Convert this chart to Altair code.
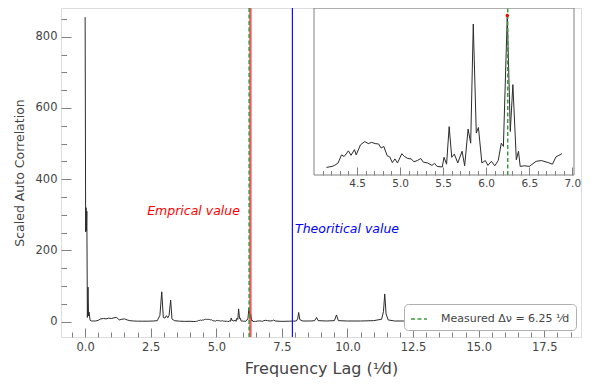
import altair as alt
import pandas as pd

# ---------------- data ----------------
# main autocorrelation curve, outside the inset window
pre_x = [0.0, 0.02, 0.035, 0.05, 0.065, 0.085, 0.11, 0.13, 0.15, 0.19, 0.25, 0.32, 0.4, 0.5,
         0.6, 0.7, 0.8, 0.9, 1.0, 1.1, 1.2, 1.3, 1.4, 1.5, 1.6, 1.7, 1.85, 2.0, 2.2, 2.4,
         2.6, 2.75, 2.85, 2.92, 2.98, 3.04, 3.1, 3.15, 3.2, 3.26, 3.31, 3.4, 3.6, 3.8, 4.0]
pre_y = [855, 252, 320, 255, 310, 12, 97, 16, 27, 4, 2, 2, 2, 4,
         8, 9, 8, 10, 9, 11, 12, 5, 7, 8, 5, 3, 2, 1.5, 1.5, 1.5,
         2, 3, 18, 84, 12, 10, 17, 11, 18, 61, 8, 3, 1.5, 1, 1.2]

# the stretch that is also shown in the inset
inset_x = [4.145, 4.21, 4.24, 4.28, 4.32, 4.35, 4.40, 4.43, 4.47, 4.49, 4.54, 4.59, 4.63,
           4.67, 4.71, 4.75, 4.78, 4.81, 4.85, 4.88, 4.91, 4.94, 4.97, 5.02, 5.05, 5.09,
           5.13, 5.16, 5.20, 5.24, 5.27, 5.32, 5.37, 5.40, 5.43, 5.49, 5.51, 5.54, 5.57,
           5.60, 5.63, 5.67, 5.72, 5.75, 5.79, 5.82, 5.85, 5.885, 5.91, 5.95, 5.99, 6.02,
           6.06, 6.10, 6.14, 6.175, 6.20, 6.245, 6.28, 6.31, 6.35, 6.375, 6.395, 6.445,
           6.50, 6.58, 6.64, 6.72, 6.77, 6.81, 6.88]
inset_y = [0.5, 0.75, 1.0, 1.6, 3.6, 3.2, 4.6, 3.5, 4.9, 3.6, 6.1, 6.9, 6.4,
           6.7, 6.4, 6.3, 5.3, 5.7, 3.4, 3.1, 1.7, 2.6, 1.6, 3.9, 3.2, 2.7,
           2.6, 1.9, 2.2, 2.7, 1.8, 1.6, 1.0, 1.5, 0.75, 0.6, 3.0, 1.3, 10.6,
           3.0, 3.8, 1.6, 4.5, 0.9, 10.0, 6.5, 36.0, 9.0, 10.4, 1.6, 2.2, 1.0,
           2.0, 0.9, 2.2, 6.5, 5.7, 38.1, 9.4, 21.0, 2.4, 4.5, 0.75, 0.9,
           0.75, 2.0, 2.2, 1.7, 1.3, 3.1, 3.9]

post_x = [6.95, 7.05, 7.15, 7.19, 7.24, 7.5, 7.8, 8.05, 8.1, 8.14, 8.18, 8.3, 8.6, 8.75,
          8.82, 8.88, 9.2, 9.5, 9.58, 9.65, 10.0, 10.5, 11.0, 11.3, 11.37, 11.42, 11.47,
          11.55, 11.8, 12.2, 12.5, 13.0, 14.0, 15.0, 16.0, 17.0, 18.0]
post_y = [3, 2, 3, 5, 2, 1, 1.5, 2, 8, 26, 6, 2, 2, 3,
          12, 3, 2, 3, 19, 3, 2, 2, 3, 7, 28, 78, 22,
          5, 2, 2, 3, 2, 2, 2, 2, 2, 2]

peak_x = [6.245]
peak_y = [38.1]

empirical_lag = [6.3]
measured_lag = [6.25]
theoretical_lag = [7.9]
legend_label = ["Measured Δν = 6.25 ¹⁄d"]

text_labels = ["Emprical value", "Theoritical value"]
text_x = [5.9, 8.0]
text_y = [300, 250]

# axes
x_domain = [-0.92, 18.9]
y_domain = [-42.9, 880.6]
x_major = [0.0, 2.5, 5.0, 7.5, 10.0, 12.5, 15.0, 17.5]
x_minor = [-0.5, 0.5, 1.0, 1.5, 2.0, 3.0, 3.5, 4.0, 4.5, 5.5, 6.0, 6.5, 7.0, 8.0, 8.5, 9.0,
           9.5, 10.5, 11.0, 11.5, 12.0, 13.0, 13.5, 14.0, 14.5, 15.5, 16.0, 16.5, 17.0, 18.0, 18.5]
y_major = [0, 200, 400, 600, 800]
y_minor = [50, 100, 150, 250, 300, 350, 450, 500, 550, 650, 700, 750, 850]

inset_x_domain = [4.0, 7.02]
inset_y_domain = [-1.38, 39.98]
inset_major = [4.5, 5.0, 5.5, 6.0, 6.5, 7.0]
inset_minor = [4.1, 4.2, 4.3, 4.4, 4.6, 4.7, 4.8, 4.9, 5.1, 5.2, 5.3, 5.4, 5.6, 5.7, 5.8,
               5.9, 6.1, 6.2, 6.3, 6.4, 6.6, 6.7, 6.8, 6.9]

# ---------------- tables ----------------
main_df = pd.DataFrame({"lag": pre_x + inset_x + post_x, "acf": pre_y + inset_y + post_y})
inset_df = pd.DataFrame({"lag": inset_x, "acf": inset_y})
peak_df = pd.DataFrame({"lag": peak_x, "acf": peak_y})
emp_df = pd.DataFrame({"lag": empirical_lag})
meas_df = pd.DataFrame({"lag": measured_lag, "label": legend_label})
theo_df = pd.DataFrame({"lag": theoretical_lag})
text_df = pd.DataFrame({"lag": text_x, "acf": text_y, "txt": text_labels})
frame_df = pd.DataFrame({"x0": [inset_x_domain[0]], "x1": [inset_x_domain[1]],
                         "y0": [inset_y_domain[0]], "y1": [inset_y_domain[1]]})
inset_rule_df = pd.DataFrame({"lag": measured_lag, "y0": [inset_y_domain[0]], "y1": [inset_y_domain[1]]})

FONT = "DejaVu Sans"
GRAY = "#808080"
LABEL = "#444444"
LINE = "#2b2b2b"
GREEN = "#3c9a3c"

x_major_js = "[" + ",".join(str(v) for v in x_major) + "]"
y_major_js = "[" + ",".join(str(v) for v in y_major) + "]"
in_major_js = "[" + ",".join(str(v) for v in inset_major) + "]"


def is_major(js):
    return f"indexof({js}, datum.value) >= 0"


x_axis = alt.Axis(
    values=sorted(x_major + x_minor), title="Frequency Lag (¹⁄d)", grid=False, domain=False,
    labelExpr=f"{is_major(x_major_js)} ? format(datum.value, '.1f') : ''",
    tickSize={"expr": f"{is_major(x_major_js)} ? -9 : -5"},
    tickColor=GRAY, tickWidth=1, labelPadding=13, labelFont=FONT, labelFontSize=11.5,
    labelColor=LABEL, titleFont=FONT, titleFontSize=16, titleFontWeight="normal",
    titleColor=LABEL, titlePadding=8, labelFlush=False)
y_axis = alt.Axis(
    values=sorted(y_major + y_minor), title="Scaled Auto Correlation", grid=False, domain=False,
    labelExpr=f"{is_major(y_major_js)} ? format(datum.value, 'd') : ''",
    tickSize={"expr": f"{is_major(y_major_js)} ? -10 : -5.5"},
    tickColor=GRAY, tickWidth=1, labelPadding=14, labelFont=FONT, labelFontSize=11.5,
    labelColor=LABEL, titleFont=FONT, titleFontSize=12.5, titleFontWeight="normal",
    titleColor=LABEL, titlePadding=9, labelFlush=False)
inset_axis = alt.Axis(
    orient="bottom", offset=-162, values=sorted(inset_major + inset_minor), title=None,
    grid=False, domain=False,
    labelExpr=f"{is_major(in_major_js)} ? format(datum.value, '.1f') : ''",
    tickSize={"expr": f"{is_major(in_major_js)} ? -8 : -4.5"},
    tickColor=GRAY, tickWidth=1, labelPadding=11, labelFont=FONT, labelFontSize=10.5,
    labelColor=LABEL, labelFlush=False)

xs = alt.Scale(domain=x_domain, nice=False, zero=False)
ys = alt.Scale(domain=y_domain, nice=False, zero=False)
ixs = alt.Scale(domain=inset_x_domain, range=[253, 513], nice=False, zero=False)
iys = alt.Scale(domain=inset_y_domain, range=[167, 0], nice=False, zero=False)

X = alt.X("lag:Q", scale=xs, axis=x_axis)
Y = alt.Y("acf:Q", scale=ys, axis=y_axis)

main_line = alt.Chart(main_df).mark_line(color=LINE, strokeWidth=1).encode(x=X, y=Y, order="lag:Q")
emp_rule = alt.Chart(emp_df).mark_rule(color="#f03c3c", strokeWidth=2.4, opacity=0.85).encode(x=X)
theo_rule = alt.Chart(theo_df).mark_rule(color="#1010ff", strokeWidth=1.2).encode(x=X)
meas_rule = alt.Chart(meas_df).mark_rule(strokeWidth=1.5, strokeDash=[4, 2.5]).encode(
    x=X,
    color=alt.Color("label:N", scale=alt.Scale(range=[GREEN]),
                    legend=alt.Legend(title=None, orient="none", legendX=343, legendY=296,
                                      symbolType="stroke", symbolDash=[4, 2.5],
                                      symbolStrokeWidth=1.5, symbolSize=256,
                                      symbolStrokeColor=GREEN,
                                      labelFont=FONT, labelFontSize=11, labelColor=LABEL,
                                      labelOffset=13, fillColor="white",
                                      strokeColor="#b0b0b0", cornerRadius=4, padding=6)))
emp_text = alt.Chart(text_df).transform_filter(alt.datum.txt == text_labels[0]).mark_text(
    align="right", baseline="alphabetic", font=FONT, fontStyle="italic", fontSize=12.5,
    color="red").encode(x=X, y=Y, text="txt:N")
theo_text = alt.Chart(text_df).transform_filter(alt.datum.txt == text_labels[1]).mark_text(
    align="left", baseline="alphabetic", font=FONT, fontStyle="italic", fontSize=12.5,
    color="blue").encode(x=X, y=Y, text="txt:N")

main = alt.layer(main_line, emp_rule, meas_rule, theo_rule, emp_text, theo_text)

IX = alt.X("lag:Q", scale=ixs, axis=inset_axis)
IY = alt.Y("acf:Q", scale=iys, axis=None)

frame = alt.Chart(frame_df).mark_rect(fillOpacity=0, stroke=GRAY, strokeWidth=1).encode(
    x=alt.X("x0:Q", scale=ixs, axis=inset_axis), x2="x1:Q",
    y=alt.Y("y0:Q", scale=iys, axis=None), y2="y1:Q")
inset_line = alt.Chart(inset_df).mark_line(color=LINE, strokeWidth=1).encode(x=IX, y=IY, order="lag:Q")
inset_rule = alt.Chart(inset_rule_df).mark_rule(color=GREEN, strokeWidth=1.5, strokeDash=[4, 2.5]).encode(
    x=IX, y=alt.Y("y0:Q", scale=iys, axis=None), y2="y1:Q")
inset_peak = alt.Chart(peak_df).mark_point(filled=True, color="red", size=12, opacity=1).encode(x=IX, y=IY)

inset = alt.layer(frame, inset_line, inset_rule, inset_peak)

chart = alt.layer(main, inset).resolve_scale(x="independent", y="independent").properties(
    width=520, height=329,
    autosize=alt.AutoSizeParams(type="none"),
    padding={"left": 53, "top": 0, "right": 7, "bottom": 42},
).configure_view(stroke=GRAY, strokeWidth=1).configure(font=FONT, background="white")

chart.save("out.html", embed_options={"renderer": "svg", "actions": False})
